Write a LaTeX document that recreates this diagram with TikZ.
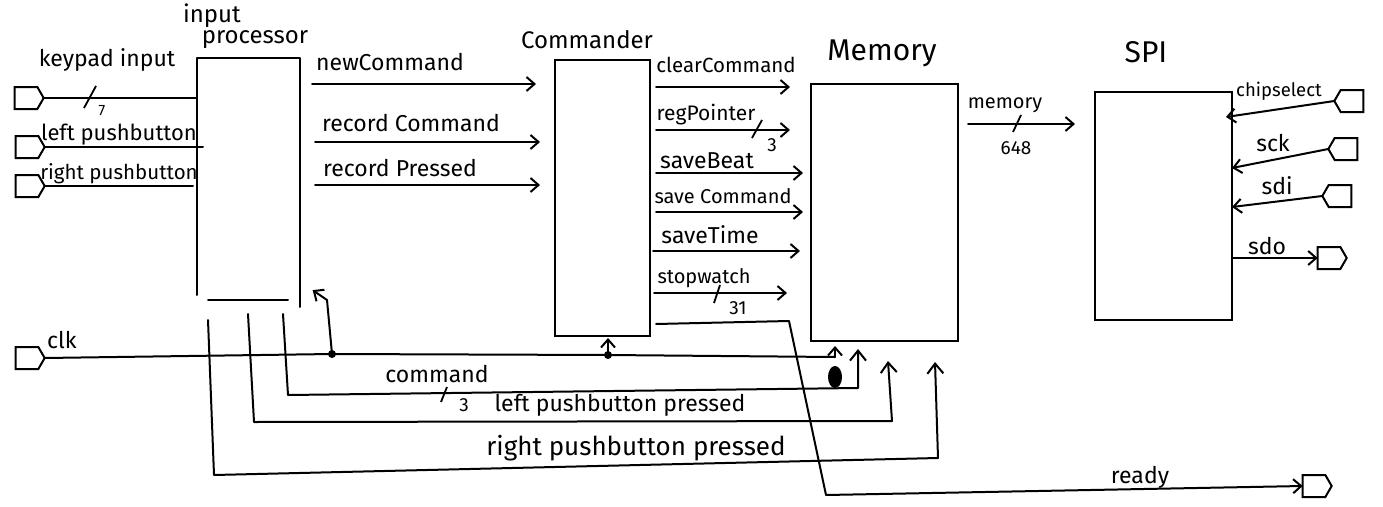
\documentclass[tikz,border=0pt]{standalone}
\usepackage{fontspec}
\setmainfont{Fira Sans}
\usetikzlibrary{arrows.meta,shapes.symbols,calc}
\begin{document}
\begin{tikzpicture}[x=1pt,y=-1pt,
  wire/.style={line width=2pt, line cap=round, line join=round},
  arr/.style={wire,-{Straight Barb[length=8pt,width=14pt,line width=2pt]}},
  uparr/.style={wire,-{Straight Barb[length=10pt,width=16pt,line width=2pt]}},
  blk/.style={draw,line width=2pt,inner sep=0pt,outer sep=0pt},
  port/.style={draw,line width=2pt,signal,signal pointer angle=120,
    minimum width=29pt,minimum height=22pt,inner sep=0pt,outer sep=0pt},
  lbl/.style={font=\fontsize{23}{26}\selectfont,inner sep=0pt},
  fsz/.style={font=\fontsize{#1}{#1}\selectfont},
  title/.style={font=\fontsize{24}{27}\selectfont,inner sep=0pt},
  num/.style={font=\fontsize{19}{22}\selectfont,inner sep=0pt},
  tick/.style={line width=1.8pt}]
\useasboundingbox (0,0) rectangle (1383,506);

% ---------- blocks ----------
\node[inner sep=0pt,outer sep=0pt,minimum width=103pt,minimum height=242pt] (ip) at (248.5,179) {};
\draw[wire] ($(ip.south west)+(0,-5)$) |- (ip.north east) -- ($(ip.south east)+(0,7)$);
\draw[wire] ($(ip.south west)+(11,0)$) -- ($(ip.south east)+(-12,0)$);
\node[blk,minimum width=95pt,minimum height=276pt] (cmd) at (602.5,198) {};
\node[blk,minimum width=147pt,minimum height=257pt] (mem) at (884.5,212.5) {};
\node[blk,minimum width=137pt,minimum height=228pt] (spi) at (1163.5,206) {};

% ---------- titles ----------
\node[title] (tin) at (212,16) {input};
\node[title] (tproc) at (255,40) {processor};
\node[title] (tcmd) at (587,40) {Commander};
\node[title,fsz=30] (tmem) at (882,53) {Memory};
\node[title,fsz=30] (tspi) at (1146,52) {SPI};

% ---------- ports ----------
\node[port,signal to=east] (kpP) at (26,98) {};
\node[port,signal to=east] (lpP) at (27,147) {};
\node[port,signal to=east] (rpP) at (27,186) {};
\node[port,signal to=east] (clkP) at (27,358) {};
\node[port,signal to=west] (csP) at (1352,101) {};
\node[port,signal to=west] (sckP) at (1346,149) {};
\node[port,signal to=west] (sdiP) at (1340,196) {};
\node[port,signal to=east] (sdoP) at (1329,258) {};
\node[port,signal to=east] (rdyP) at (1314,486) {};

% ---------- inputs to input processor ----------
\draw[wire] (kpP.east) -- (kpP.east -| ip.west);
\draw[tick] (84,108) -- (96,86);
\node[num,fsz=15] (n7) at (102,111) {7};
\node[lbl] (lkp) at (107,60) {keypad input};
\draw[wire] (lpP.east) -- ($(lpP.east -| ip.west)+(6,0)$);
\node[lbl,fsz=22] (llp) at (119,135) {left pushbutton};
\draw[wire] (rpP.east) -- ($(rpP.east -| ip.west)+(-4,0)$);
\node[lbl,fsz=20.5] (lrp) at (119,174) {right pushbutton};

% ---------- input processor -> commander ----------
\coordinate (y1) at (0,84);
\coordinate (y2) at (0,142);
\coordinate (y3) at (0,185);
\draw[arr,shorten <=12pt,shorten >=19pt] (ip.east |- y1) -- (cmd.west |- y1);
\node[lbl] (lnc) at (390,62) {newCommand};
\draw[arr,shorten <=15pt,shorten >=15pt] (ip.east |- y2) -- (cmd.west |- y2);
\node[lbl] (lrc) at (411,123) {record Command};
\draw[arr,shorten <=15pt,shorten >=15pt] (ip.east |- y3) -- (cmd.west |- y3);
\node[lbl] (lrpr) at (400,168) {record Pressed};

% ---------- commander -> memory ----------
\coordinate (z1) at (0,87);
\coordinate (z2) at (0,130);
\coordinate (z3) at (0,173);
\coordinate (z4) at (0,212);
\coordinate (z5) at (0,251);
\coordinate (z6) at (0,293);
\draw[arr,shorten <=6pt,shorten >=21pt] (cmd.east |- z1) -- (mem.west |- z1);
\node[lbl,fsz=20.5] (lcc) at (726,65) {clearCommand};
\draw[arr,shorten <=6pt,shorten >=21pt] (cmd.east |- z2) -- (mem.west |- z2);
\draw[tick] (752,138) -- (762,120);
\node[num] (n3a) at (772,145) {3};
\node[lbl,fsz=21] (lrg) at (706,115) {regPointer};
\draw[arr,shorten <=6pt,shorten >=8pt] (cmd.east |- z3) -- (mem.west |- z3);
\node[lbl] (lsb) at (707,161) {saveBeat};
\draw[arr,shorten <=6pt,shorten >=8pt] (cmd.east |- z4) -- (mem.west |- z4);
\node[lbl,fsz=20] (lsc) at (723,196) {save Command};
\draw[arr,shorten <=3pt,shorten >=11pt] (cmd.east |- z5) -- (mem.west |- z5);
\node[lbl] (lst) at (710,235) {saveTime};
\draw[arr,shorten <=4pt,shorten >=24pt] (cmd.east |- z6) -- (mem.west |- z6);
\draw[tick] (714,303) -- (720,285);
\node[num] (n31) at (738,308) {31};
\node[lbl,fsz=20] (lsw) at (704,278) {stopwatch};

% ---------- memory -> SPI ----------
\coordinate (m1) at (0,124);
\draw[arr,shorten <=10pt,shorten >=20pt] (mem.east |- m1) -- (spi.west |- m1);
\draw[tick] (1013,132) -- (1021,115);
\node[num] (n648) at (1016,148) {648};
\node[lbl,fsz=20] (lmem) at (1005,105) {memory};

% ---------- SPI ports ----------
\draw[arr] (csP.west) -- ($(spi.north east)+(-6,25)$);
\node[lbl,fsz=18.5] (lcs) at (1279,91) {chipselect};
\draw[arr] (sckP.west) -- ($(spi.north east)+(0,76)$);
\node[lbl] (lsck) at (1273,143) {sck};
\draw[arr] (sdiP.west) -- ($(spi.north east)+(0,115)$);
\node[lbl] (lsdi) at (1277,186) {sdi};
\draw[arr] (spi.east |- sdoP.west) -- (sdoP.west);
\node[lbl] (lsdo) at (1267,246) {sdo};

% ---------- clk ----------
\coordinate (dot1) at (332,354);
\coordinate (dot2) at (608,355);
\coordinate (ck3) at (835,357);
\coordinate (b1) at (327,300);
\coordinate (ipclk) at (311,289);
\draw[wire] (clkP.east) -- (dot1) -- (dot2) -- (ck3);
\fill (dot1) circle (4pt);
\fill (dot2) circle (4pt);
\draw[arr,shorten >=2pt] (dot1) -- (b1) -- (ipclk);
\draw[arr,shorten >=2pt] (dot2) -- (dot2 |- cmd.south);
\draw[arr,shorten >=5pt] (ck3) -- (ck3 |- mem.south);
\node[lbl] (lclk) at (62,340) {clk};

% ---------- command ----------
\coordinate (c0) at (283,314);
\coordinate (c1) at (288,395);
\coordinate (c2) at (858,388);
\coordinate (cT) at (858,349);
\draw[uparr] (c0) -- (c1) -- (c2) -- (cT);
\draw[tick] (441,402) -- (447,387);
\node[num] (n3b) at (464,405) {3};
\node[lbl] (lcmd) at (437,374) {command};
\fill (835,377) ellipse (7pt and 11pt);

% ---------- left pushbutton pressed ----------
\coordinate (l0) at (248,314);
\coordinate (l1) at (254,422);
\coordinate (l2) at (892,421);
\coordinate (lT) at (888,361);
\draw[uparr] (l0) -- (l1) -- (l2) -- (lT);
\node[lbl] (llpp) at (620,405) {left pushbutton pressed};

% ---------- right pushbutton pressed ----------
\coordinate (r0) at (208,320);
\coordinate (r1) at (214,475);
\coordinate (r2) at (938,458);
\coordinate (rT) at (935,362);
\draw[uparr] (r0) -- (r1) -- (r2) -- (rT);
\node[lbl,fsz=26] (lrpp) at (636,448) {right pushbutton pressed};

% ---------- ready ----------
\coordinate (q1) at (789,321);
\coordinate (q2) at (826,495);
\draw[arr] ($(cmd.east |- q1)+(6,3)$) -- (q1) -- (q2) -- (rdyP.west);
\node[lbl] (lrdy) at (1140,477) {ready};
\end{tikzpicture}
\end{document}
